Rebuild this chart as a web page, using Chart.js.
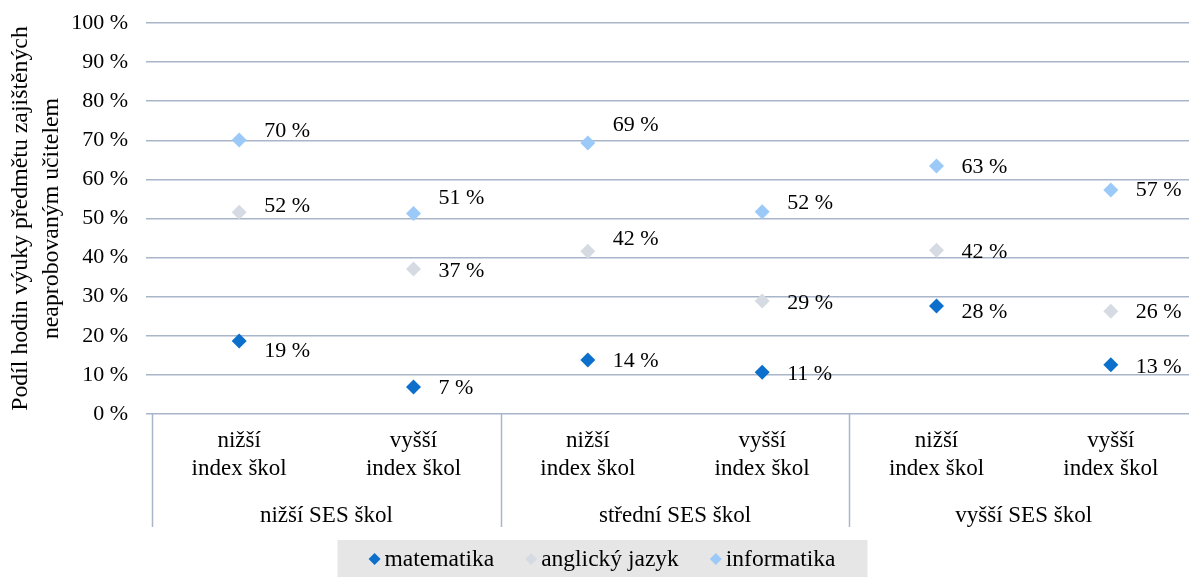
<!DOCTYPE html>
<html>
<head>
<meta charset="utf-8">
<script src="https://cdn.jsdelivr.net/npm/chart.js"></script>
<style>
  body { margin: 0; padding: 0; overflow: hidden; background: #fff; }
  #wrap { width: 1215px; height: 577px; }
</style>
</head>
<body>
<div id="wrap"><canvas id="chart" width="1215" height="577"></canvas></div>
<script>
// categories (two levels)
const indexLabels = [
  ['nižší', 'index škol'], ['vyšší', 'index škol'],
  ['nižší', 'index škol'], ['vyšší', 'index škol'],
  ['nižší', 'index škol'], ['vyšší', 'index škol']
];
const sesGroups = ['nižší SES škol', 'střední SES škol', 'vyšší SES škol'];

// series values (%)
const matematika = [18.7, 6.9, 13.8, 10.7, 27.6, 12.6];
const anglickyJazyk = [51.6, 37.1, 41.6, 28.9, 41.9, 26.3];
const informatika = [70.1, 51.3, 69.3, 51.7, 63.4, 57.3];

const yTicks = [0, 10, 20, 30, 40, 50, 60, 70, 80, 90, 100];
const yTitle = ['Podíl hodin výuky předmětu zajištěných', 'neaprobovaným učitelem'];

const FONT = 'Liberation Serif';
const GRID = '#a9b5c9';

// vertical nudges of the value labels (like hand-placed labels in the original)
const labelNudge = [
  [10, 1, 1, 2, 6, 2],
  [-6, 2, -12, 2, 2, 1],
  [-9, -15, -18, -9, 1, 0]
];

// value labels right of each point
const valueLabels = {
  id: 'valueLabels',
  afterDatasetsDraw(chart) {
    const ctx = chart.ctx;
    ctx.save();
    ctx.font = '22px "' + FONT + '"';
    ctx.fillStyle = '#000';
    ctx.textBaseline = 'middle';
    ctx.textAlign = 'left';
    chart.data.datasets.forEach((ds, di) => {
      chart.getDatasetMeta(di).data.forEach((pt, i) => {
        ctx.fillText(Math.round(ds.data[i]) + ' %', pt.x + 25, pt.y + labelNudge[di][i]);
      });
    });
    ctx.restore();
  }
};

// group labels, separators and legend box
const groupAxis = {
  id: 'groupAxis',
  afterDraw(chart) {
    const ctx = chart.ctx;
    const x = chart.scales.x;
    const area = chart.chartArea;
    ctx.save();
    ctx.strokeStyle = GRID;
    ctx.lineWidth = 1.5;
    const bottom = area.bottom + 113;
    const bounds = [area.left];
    for (let g = 1; g < sesGroups.length; g++) {
      const i = g * 2;
      bounds.push((x.getPixelForValue(i - 1) + x.getPixelForValue(i)) / 2);
    }
    bounds.forEach(bx => {
      ctx.beginPath();
      ctx.moveTo(Math.round(bx) + 0.5, area.bottom);
      ctx.lineTo(Math.round(bx) + 0.5, bottom);
      ctx.stroke();
    });
    ctx.font = '23px "' + FONT + '"';
    ctx.fillStyle = '#000';
    ctx.textAlign = 'center';
    ctx.textBaseline = 'alphabetic';
    sesGroups.forEach((name, g) => {
      const cx = (x.getPixelForValue(g * 2) + x.getPixelForValue(g * 2 + 1)) / 2;
      ctx.fillText(name, cx, area.bottom + 108);
    });

    // legend
    const items = chart.data.datasets.map(ds => ({ text: ds.label, color: ds.backgroundColor }));
    ctx.font = '23.5px "' + FONT + '"';
    const r = 6, gapText = 10, gapItem = 37;
    let total = 0;
    items.forEach((it, k) => {
      it.w = ctx.measureText(it.text).width;
      total += r + gapText + it.w + (k < items.length - 1 ? gapItem : 0);
    });
    const center = 608;
    const left = center - total / 2;
    const ly = 559;
    ctx.fillStyle = '#e6e6e6';
    ctx.fillRect(left - 31, 540, total + 31 + 20, 40);
    let cx = left + r;
    ctx.textAlign = 'left';
    ctx.textBaseline = 'middle';
    items.forEach(it => {
      ctx.fillStyle = it.color;
      ctx.beginPath();
      ctx.moveTo(cx, ly - r);
      ctx.lineTo(cx + r, ly);
      ctx.lineTo(cx, ly + r);
      ctx.lineTo(cx - r, ly);
      ctx.closePath();
      ctx.fill();
      ctx.fillStyle = '#000';
      ctx.fillText(it.text, cx + gapText, ly + 1);
      cx += gapText + it.w + gapItem;
    });
    ctx.restore();
  }
};

function series(label, data, color) {
  return {
    label: label,
    data: data,
    showLine: false,
    pointStyle: 'rectRot',
    pointRadius: 7.5,
    pointHoverRadius: 7.5,
    borderWidth: 0,
    backgroundColor: color,
    borderColor: color
  };
}

new Chart(document.getElementById('chart'), {
  type: 'line',
  data: {
    labels: indexLabels,
    datasets: [
      series('matematika', matematika, '#0b6fcb'),
      series('anglický jazyk', anglickyJazyk, '#d6dbe3'),
      series('informatika', informatika, '#9ccaf8')
    ]
  },
  options: {
    responsive: false,
    animation: false,
    layout: { padding: { top: 23, right: 17, bottom: 0, left: 0 } },
    plugins: { legend: { display: false }, tooltip: { enabled: false } },
    scales: {
      x: {
        offset: true,
        grid: { display: false, drawTicks: false },
        border: { display: false },
        ticks: {
          color: '#000',
          padding: 13,
          maxRotation: 0,
          autoSkip: false,
          font: { family: FONT, size: 23, lineHeight: 1.22 }
        },
        afterFit(scale) { scale.height = 163; }
      },
      y: {
        min: 0,
        max: 100,
        afterBuildTicks(scale) { scale.ticks = yTicks.map(v => ({ value: v })); },
        grid: { color: GRID, lineWidth: 1.5, tickLength: 6 },
        border: { display: false },
        ticks: {
          color: '#000',
          padding: 18,
          font: { family: FONT, size: 22 },
          callback: v => v + ' %'
        },
        title: {
          display: true,
          text: yTitle,
          color: '#000',
          padding: { top: 6, bottom: 0 },
          font: { family: FONT, size: 23.8, lineHeight: 1.28 }
        },
        afterFit(scale) {
          scale.width = 152;
          scale.paddingTop = 0;
          scale.paddingBottom = 0;
        }
      }
    }
  },
  plugins: [valueLabels, groupAxis]
});
</script>
</body>
</html>
